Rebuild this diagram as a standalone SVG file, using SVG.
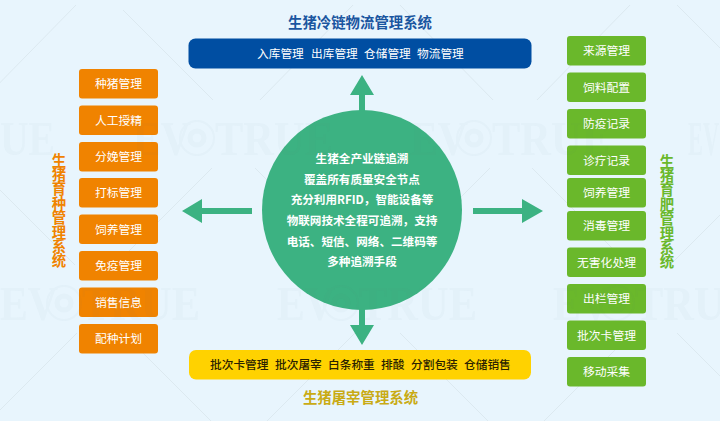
<svg xmlns="http://www.w3.org/2000/svg" width="720" height="421" viewBox="0 0 720 421">
<style>
text{font-family:"Noto Sans CJK SC","Liberation Sans",sans-serif;text-anchor:middle}
.box{font-size:11.8px;fill:#fff}
.o{fill:#f08300}.g{fill:#6ab82b}
.wm{font-family:"Liberation Serif",serif;font-size:48px;font-weight:700;fill:#5f7a8a;text-anchor:start}
.ring{fill:none;stroke:#5f7a8a}
.ln{stroke:#dce9f0;stroke-width:1;fill:none}
.t{font-size:14.4px;font-weight:700}
.v{writing-mode:vertical-rl;text-orientation:upright;text-anchor:start}
.c{font-size:11.6px;font-weight:700;fill:#fff}
.bar{font-size:11.7px;text-anchor:start}
.ar{fill:#3cb282}
</style>
<defs>
<g id="logo">
<text class="wm" x="0" y="32" textLength="58" lengthAdjust="spacingAndGlyphs">EV</text>
<circle class="ring" cx="64" cy="15" r="17" stroke-width="2"/>
<circle class="ring" cx="64" cy="15" r="7" stroke-width="5"/>
<text class="wm" x="82" y="32" textLength="118" lengthAdjust="spacingAndGlyphs">TRUE</text>
</g>
</defs>
<rect width="720" height="421" fill="#e8f5fd"/>
<g id="watermark-lines">
<path class="ln" d="M-17 100L76 5M123 10L213 100M260 100L353 5M400 5L493 100M537 100L630 5M677 5L720 48"/>
<path class="ln" d="M-22 168L75 265M212 168L115 265M255 168L352 265M490 168L393 265M532 168L629 265M720 215L670 265"/>
<path class="ln" d="M77 333L0 410M123 333L211 421M355 333L267 421M400 333L488 421M632 333L544 421M677 333L720 376"/>
</g>
<g id="connectors">
<path class="ar" d="M362 75L374 95H365V112H359V95H350Z"/>
<path class="ar" d="M362 345L374 325H365V308H359V325H350Z"/>
<path class="ar" d="M182 211L202 199V208H252V214H202V223Z"/>
<path class="ar" d="M543 211L522 199V208H473V214H522V223Z"/>
</g>
<g id="cold-chain">
<text class="t" x="360" y="28" fill="#1a56a0">生猪冷链物流管理系统</text>
<rect x="188.500" y="38.500" width="343" height="30" rx="7" fill="#004ea2"/>
<text y="57.500" class="box bar" fill="#fff"><tspan x="257">入库管理</tspan><tspan x="311">出库管理</tspan><tspan x="364">仓储管理</tspan><tspan x="417">物流管理</tspan></text>
</g>
<g id="center">
<circle cx="362" cy="210" r="100" fill="#3cb282"/>
<text class="c" x="362" y="163">生猪全产业链追溯</text>
<text class="c" x="362" y="183.500">覆盖所有质量安全节点</text>
<text class="c" x="362" y="203.500">充分利用RFID，智能设备等</text>
<text class="c" x="362" y="224.500">物联网技术全程可追溯，支持</text>
<text class="c" x="362" y="245.500">电话、短信、网络、二维码等</text>
<text class="c" x="362" y="265.500">多种追溯手段</text>
</g>
<g id="slaughter">
<rect x="189" y="350" width="342" height="29.500" rx="7" fill="#ffd200"/>
<text y="369" class="bar" fill="#2a2200" font-weight="500"><tspan x="210">批次卡管理</tspan><tspan x="275">批次屠宰</tspan><tspan x="328">白条称重</tspan><tspan x="381">排酸</tspan><tspan x="411">分割包装</tspan><tspan x="464">仓储销售</tspan></text>
<text class="t" x="360.500" y="403" fill="#c9ab14">生猪屠宰管理系统</text>
</g>
<g id="breeding">
<text class="t v" x="59" y="153" fill="#f08300">生猪育种管理系统</text>
<rect class="o" x="79" y="69" width="79" height="29.500" rx="3"/><text class="box" x="118.500" y="88">种猪管理</text>
<rect class="o" x="79" y="105.500" width="79" height="29.500" rx="3"/><text class="box" x="118.500" y="124.500">人工授精</text>
<rect class="o" x="79" y="142" width="79" height="29.500" rx="3"/><text class="box" x="118.500" y="161">分娩管理</text>
<rect class="o" x="79" y="178" width="79" height="29.500" rx="3"/><text class="box" x="118.500" y="197">打标管理</text>
<rect class="o" x="79" y="214.500" width="79" height="29.500" rx="3"/><text class="box" x="118.500" y="233.500">饲养管理</text>
<rect class="o" x="79" y="251" width="79" height="29.500" rx="3"/><text class="box" x="118.500" y="270">免疫管理</text>
<rect class="o" x="79" y="287.500" width="79" height="29.500" rx="3"/><text class="box" x="118.500" y="306.500">销售信息</text>
<rect class="o" x="79" y="324" width="79" height="29.500" rx="3"/><text class="box" x="118.500" y="343">配种计划</text>
</g>
<g id="fattening">
<text class="t v" x="667" y="154" fill="#6ab82b">生猪育肥管理系统</text>
<rect class="g" x="567" y="36" width="79" height="29.500" rx="3"/><text class="box" x="606.500" y="55">来源管理</text>
<rect class="g" x="567" y="72.500" width="79" height="29.500" rx="3"/><text class="box" x="606.500" y="91.500">饲料配置</text>
<rect class="g" x="567" y="109" width="79" height="29.500" rx="3"/><text class="box" x="606.500" y="128">防疫记录</text>
<rect class="g" x="567" y="145.500" width="79" height="29.500" rx="3"/><text class="box" x="606.500" y="164.500">诊疗记录</text>
<rect class="g" x="567" y="178" width="79" height="29.500" rx="3"/><text class="box" x="606.500" y="197">饲养管理</text>
<rect class="g" x="567" y="211" width="79" height="29.500" rx="3"/><text class="box" x="606.500" y="230">消毒管理</text>
<rect class="g" x="567" y="247.500" width="79" height="29.500" rx="3"/><text class="box" x="606.500" y="266.500">无害化处理</text>
<rect class="g" x="567" y="284" width="79" height="29.500" rx="3"/><text class="box" x="606.500" y="303">出栏管理</text>
<rect class="g" x="567" y="320.500" width="79" height="29.500" rx="3"/><text class="box" x="606.500" y="339.500">批次卡管理</text>
<rect class="g" x="567" y="357" width="79" height="29.500" rx="3"/><text class="box" x="606.500" y="376">移动采集</text>
</g>
<g id="watermark" opacity="0.035">
<text class="wm" x="0" y="155" textLength="55" lengthAdjust="spacingAndGlyphs">UE</text>
<use href="#logo" x="133" y="123"/>
<use href="#logo" x="410" y="123"/>
<text class="wm" x="688" y="155" textLength="31" lengthAdjust="spacingAndGlyphs">EV</text>
<use href="#logo" x="0" y="288"/>
<use href="#logo" x="277" y="288"/>
<use href="#logo" x="553" y="288"/>
</g>
</svg>
